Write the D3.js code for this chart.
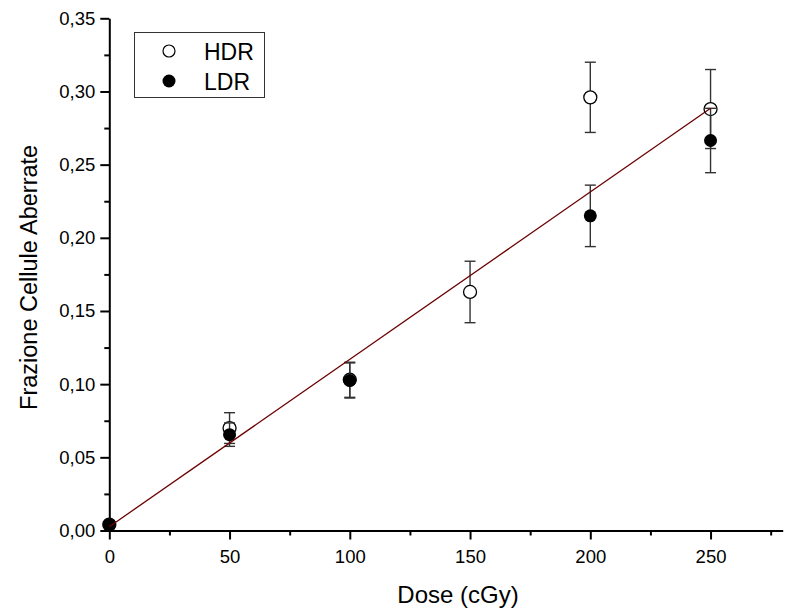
<!DOCTYPE html>
<html>
<head>
<meta charset="utf-8">
<script src="https://cdn.jsdelivr.net/npm/d3@7"></script>
<style>
  html, body { margin: 0; padding: 0; background: #fff; }
  svg text { font-family: "Liberation Sans", Arial, Helvetica, sans-serif; fill: #000; }
</style>
</head>
<body>
<svg id="chart" width="796" height="615"></svg>
<script>
// Dose (cGy) for each measurement
const doses = [0, 50, 100, 150, 200, 250];
// HDR: fraction of aberrant cells and standard error
const hdrValues = [0.004, 0.070, 0.103, 0.163, 0.296, 0.288];
const hdrErrors = [0.000, 0.0105, 0.012, 0.021, 0.024, 0.027];
// LDR (no point at 150 cGy)
const ldrDoses  = [0, 50, 100, 200, 250];
const ldrValues = [0.004, 0.0655, 0.1025, 0.215, 0.2665];
const ldrErrors = [0.000, 0.008, 0.012, 0.021, 0.022];
// Linear fit y = a + b * dose, drawn over 0..250 cGy
const fitDoses = [0, 250];
const fitIntercept = 0.0026;
const fitSlope = 0.0011436;
// Axis ticks
const xTicks = [0, 50, 100, 150, 200, 250];
const xMinorTicks = [25, 75, 125, 175, 225, 275];
const yTicks = [0, 0.05, 0.10, 0.15, 0.20, 0.25, 0.30, 0.35];
const yMinorTicks = [0.025, 0.075, 0.125, 0.175, 0.225, 0.275, 0.325];

const svg = d3.select("#chart");
const x = d3.scaleLinear().domain([0, 280]).range([109.3, 782.7]);
const y = d3.scaleLinear().domain([0, 0.35]).range([530.5, 18.3]);
const fmt = v => d3.format(".2f")(v).replace(".", ",");

// Axes
svg.append("g").attr("transform", `translate(0,${y(0)})`)
  .call(d3.axisBottom(x).tickValues(xTicks).tickSize(9).tickPadding(10).tickSizeOuter(0).tickFormat(d3.format("d")));
svg.append("g").attr("transform", `translate(0,${y(0)})`)
  .call(d3.axisBottom(x).tickValues(xMinorTicks).tickSize(5).tickSizeOuter(0).tickFormat(""))
  .select(".domain").remove();
svg.append("g").attr("transform", `translate(${x(0)},0)`)
  .call(d3.axisLeft(y).tickValues(yTicks).tickSize(9).tickPadding(5).tickSizeOuter(0).tickFormat(fmt));
svg.append("g").attr("transform", `translate(${x(0)},0)`)
  .call(d3.axisLeft(y).tickValues(yMinorTicks).tickSize(5).tickSizeOuter(0).tickFormat(""))
  .select(".domain").remove();

svg.selectAll(".domain").attr("stroke", "#000").attr("stroke-width", 2);
svg.selectAll(".tick line").attr("stroke", "#000").attr("stroke-width", 2);
svg.selectAll(".tick text").attr("font-size", 18.5).attr("font-family", "Liberation Sans, Arial, sans-serif");

// Axis titles
svg.append("text")
  .attr("x", 458).attr("y", 603)
  .attr("text-anchor", "middle").attr("font-size", 24)
  .text("Dose (cGy)");
svg.append("text")
  .attr("transform", `translate(37,${(y(0) + y(0.35)) / 2 + 3}) rotate(-90)`)
  .attr("text-anchor", "middle").attr("font-size", 23.5)
  .text("Frazione Cellule Aberrate");

const capHalf = 5.5;
const r = 6.5;

function errorBars(xs, vals, errs) {
  const g = svg.append("g").attr("stroke", "#333").attr("stroke-width", 1.4).attr("fill", "none");
  xs.forEach((d, i) => {
    if (!errs[i]) return;
    const cx = x(d), y1 = y(vals[i] + errs[i]), y2 = y(vals[i] - errs[i]);
    g.append("line").attr("x1", cx).attr("x2", cx).attr("y1", y1).attr("y2", y2);
    g.append("line").attr("x1", cx - capHalf).attr("x2", cx + capHalf).attr("y1", y1).attr("y2", y1);
    g.append("line").attr("x1", cx - capHalf).attr("x2", cx + capHalf).attr("y1", y2).attr("y2", y2);
  });
}

// HDR (open circles)
errorBars(doses, hdrValues, hdrErrors);
svg.append("g").selectAll("circle").data(doses).join("circle")
  .attr("cx", d => x(d)).attr("cy", (d, i) => y(hdrValues[i])).attr("r", r)
  .attr("fill", "#fff").attr("stroke", "#000").attr("stroke-width", 1.3);

// LDR (filled circles)
errorBars(ldrDoses, ldrValues, ldrErrors);
svg.append("g").selectAll("circle").data(ldrDoses).join("circle")
  .attr("cx", d => x(d)).attr("cy", (d, i) => y(ldrValues[i])).attr("r", r)
  .attr("fill", "#000");

// Linear fit
svg.append("path")
  .datum(fitDoses)
  .attr("d", d3.line().x(d => x(d)).y(d => y(fitIntercept + fitSlope * d)))
  .attr("fill", "none").attr("stroke", "#6b0000").attr("stroke-width", 1.3);

// Legend
const legend = svg.append("g");
legend.append("rect").attr("x", 134.5).attr("y", 32.5).attr("width", 130).attr("height", 65)
  .attr("fill", "#fff").attr("stroke", "#333").attr("stroke-width", 1);
legend.append("circle").attr("cx", 169).attr("cy", 51).attr("r", 6).attr("fill", "#fff").attr("stroke", "#000").attr("stroke-width", 1.2);
legend.append("circle").attr("cx", 169).attr("cy", 81).attr("r", 6.5).attr("fill", "#000");
legend.append("text").attr("x", 204).attr("y", 59.5).attr("font-size", 23).text("HDR");
legend.append("text").attr("x", 204).attr("y", 90).attr("font-size", 23).text("LDR");
</script>
</body>
</html>
